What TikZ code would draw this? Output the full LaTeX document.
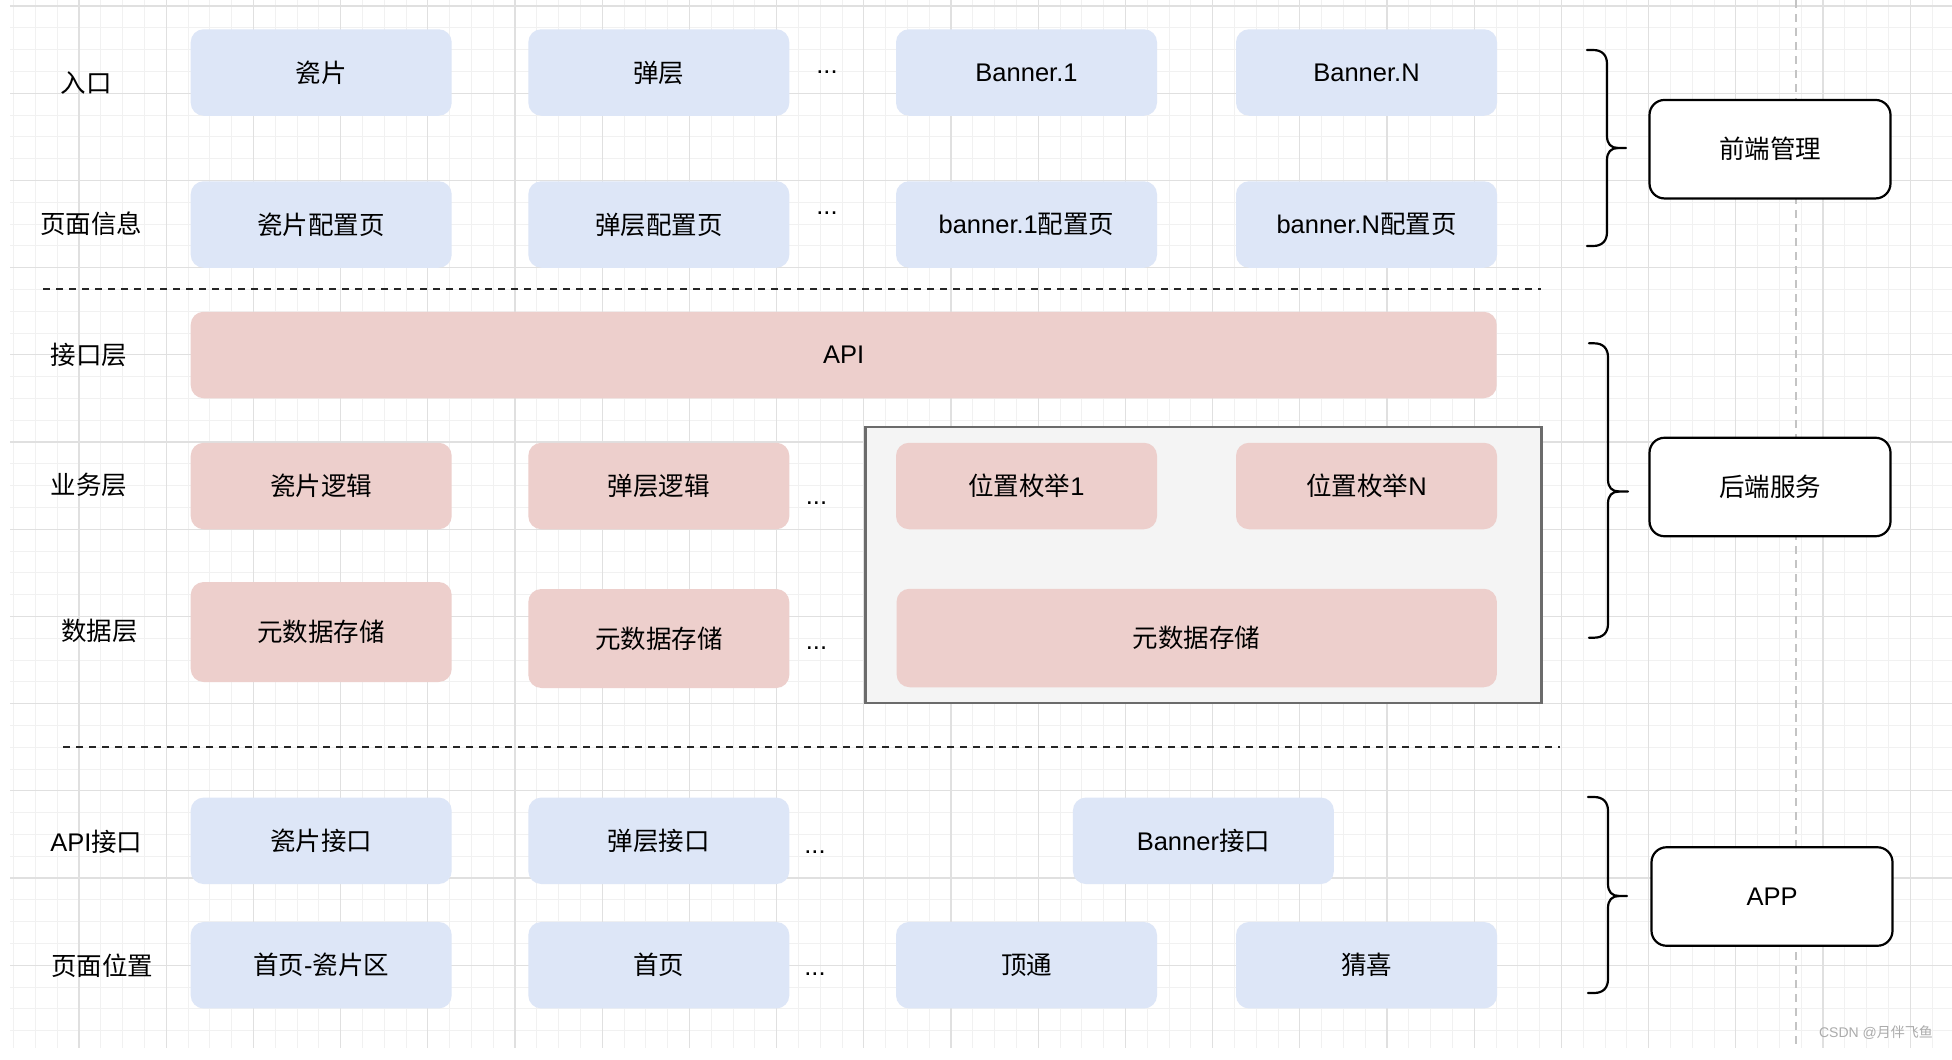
\documentclass[tikz,border=0pt]{standalone}
\usepackage{fontspec}
\setmainfont{Liberation Sans}
\newfontfamily\cjk{Noto Sans CJK SC}
\definecolor{boxblue}{HTML}{DDE6F7}
\definecolor{boxpink}{HTML}{EDCFCC}
\definecolor{grpfill}{HTML}{F4F4F4}
\definecolor{grpline}{HTML}{6B6B6B}
\definecolor{gridminor}{HTML}{F1F1F1}
\definecolor{gridmajor}{HTML}{E0E0E0}
\definecolor{pbline}{HTML}{C4C4C4}
\definecolor{wmgray}{HTML}{ABABAB}
\newcommand\fs{\fontsize{25.5}{30}\selectfont}
\newcommand\curlybrace[6]{% xl xv xt yt ym yb
  \draw[brace] (#1,#4) -- ({#2-14},#4) .. controls ({#2-5},#4) and (#2,{#4+5}) .. (#2,{#4+14})
    -- (#2,{#5-12}) .. controls (#2,{#5-4}) and ({#2+4},#5) .. ({#2+11},#5) -- (#3,#5);
  \draw[brace] ({#2+11},#5) .. controls ({#2+4},#5) and (#2,{#5+4}) .. (#2,{#5+12})
    -- (#2,{#6-14}) .. controls (#2,{#6-5}) and ({#2-5},#6) .. ({#2-14},#6) -- (#1,#6);
}
\begin{document}
\begin{tikzpicture}[x=1pt,y=-1pt,
  box/.style={rectangle, rounded corners=13pt, draw=none, inner sep=0pt,
    minimum width=261pt, minimum height=86.5pt, font=\fs, text=black},
  bluebox/.style={box, fill=boxblue},
  pinkbox/.style={box, fill=boxpink},
  sidebox/.style={rectangle, rounded corners=15pt, draw=black, line width=2.2pt,
    fill=white, minimum width=241pt, minimum height=98.5pt, inner sep=0pt, font=\fs},
  lbl/.style={font=\fs, inner sep=0pt, text=black},
  dots/.style={font=\fs, inner sep=0pt, anchor=base, text=black},
  sepline/.style={draw=black!85, line width=2pt, dash pattern=on 7pt off 6pt},
  brace/.style={draw=black, line width=2.2pt, line cap=round, line join=round},
  minorgrid/.style={draw=gridminor, line width=1pt},
  majorgrid/.style={draw=gridmajor, line width=1.1pt},
]
\useasboundingbox (0,0) rectangle (1952,1060);
\fill[white] (0,0) rectangle (1952,1060);

% grid
\foreach \k in {-3,...,86} {
  \pgfmathsetmacro\gx{79+21.8*\k}
  \draw[minorgrid] (\gx,0) -- (\gx,1048);
}
\foreach \k in {0,...,47} {
  \pgfmathsetmacro\gy{6+21.8*\k}
  \draw[minorgrid] (10,\gy) -- (1952,\gy);
}
\foreach \k in {0,...,21} {
  \pgfmathsetmacro\gx{79+87.2*\k}
  \draw[majorgrid] (\gx,0) -- (\gx,1048);
}
\foreach \k in {0,...,11} {
  \pgfmathsetmacro\gy{6+87.2*\k}
  \draw[majorgrid] (10,\gy) -- (1952,\gy);
}
% page break line
\draw[draw=pbline, line width=1.5pt, dash pattern=on 8pt off 6pt] (1796,0) -- (1796,1048);

% separators
\draw[sepline] (43,289.3) -- (1541,289.3);
\draw[sepline] (63,746.7) -- (1560,746.7);

% left labels
\node[lbl] (l1) at (86,82.5) {\cjk 入口};
\node[lbl] (l2) at (91,223.5) {\cjk 页面信息};
\node[lbl] (l3) at (89,355) {\cjk 接口层};
\node[lbl] (l4) at (89,485) {\cjk 业务层};
\node[lbl] (l5) at (99.6,631) {\cjk 数据层};
\node[lbl] (l6) at (96.4,842) {API{\cjk 接口}};
\node[lbl] (l7) at (102,966) {\cjk 页面位置};

% row 1: entry
\node[bluebox] (r1c1) at (321.2,72.5) {\cjk 瓷片};
\node[bluebox] (r1c2) at (658.8,72.5) {\cjk 弹层};
\node[bluebox] (r1c3) at (1026.5,72.5) {Banner.1};
\node[bluebox] (r1c4) at (1366.5,72.5) {Banner.N};
\node[dots] (dt1) at (827,73.5) {...};

% row 2: page info
\node[bluebox] (r2c1) at (321.2,224.5) {\cjk 瓷片配置页};
\node[bluebox] (r2c2) at (658.8,224.5) {\cjk 弹层配置页};
\node[bluebox] (r2c3) at (1026.5,224.5) {banner.1{\cjk 配置页}};
\node[bluebox] (r2c4) at (1366.5,224.5) {banner.N{\cjk 配置页}};
\node[dots] (dt2) at (827,214.5) {...};

% API
\node[pinkbox, minimum width=1306pt] (api) at (843.7,355) {API};

% container
\node[rectangle, draw=grpline, fill=grpfill, line width=2.2pt,
  minimum width=676pt, minimum height=276pt, inner sep=0pt] (grp) at (1203.5,565) {};

% business
\node[pinkbox] (b1) at (321.2,486) {\cjk 瓷片逻辑};
\node[pinkbox] (b2) at (658.8,486) {\cjk 弹层逻辑};
\node[pinkbox] (b3) at (1026.5,486) {{\cjk 位置枚举}1};
\node[pinkbox] (b4) at (1366.5,486) {{\cjk 位置枚举}N};
\node[dots] (dt3) at (816.5,504) {...};

% data
\node[pinkbox, minimum height=100pt] (d1) at (321.2,632) {\cjk 元数据存储};
\node[pinkbox, minimum height=99pt] (d2) at (658.8,638.5) {\cjk 元数据存储};
\node[pinkbox, minimum width=600.3pt, minimum height=98.5pt] (d3) at (1196.7,638) {\cjk 元数据存储};
\node[dots] (dt4) at (816.5,649.5) {...};

% API interface
\node[bluebox] (a1) at (321.2,840.8) {\cjk 瓷片接口};
\node[bluebox] (a2) at (658.8,840.8) {\cjk 弹层接口};
\node[bluebox] (a3) at (1203.4,840.8) {Banner{\cjk 接口}};
\node[dots] (dt5) at (815,853.5) {...};

% page position
\node[bluebox] (p1) at (321.2,965.2) {{\cjk 首页}-{\cjk 瓷片区}};
\node[bluebox] (p2) at (658.8,965.2) {\cjk 首页};
\node[bluebox] (p3) at (1026.5,965.2) {\cjk 顶通};
\node[bluebox] (p4) at (1366.5,965.2) {\cjk 猜喜};
\node[dots] (dt6) at (815,975.5) {...};

% braces
\curlybrace{1587}{1607}{1626}{50}{148}{246}
\curlybrace{1589}{1608}{1628}{343.3}{491.5}{637.7}
\curlybrace{1588}{1608}{1627}{797}{896}{993}

% side boxes
\node[sidebox] (fe) at (1770,149.2) {\cjk 前端管理};
\node[sidebox] (be) at (1770,487) {\cjk 后端服务};
\node[sidebox] (app) at (1772,896.5) {APP};

% watermark
\node[font=\fontsize{14}{16}\selectfont, text=wmgray, inner sep=0pt] (wm) at (1876,1033) {CSDN @{\cjk 月伴飞鱼}};
\end{tikzpicture}
\end{document}
